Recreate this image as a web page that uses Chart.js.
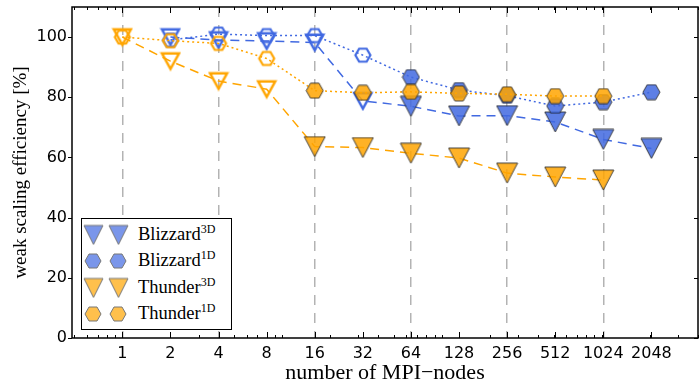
<!DOCTYPE html>
<html lang="en">

<head>
    <meta charset="UTF-8">
    <title>Weak scaling efficiency</title>
    <script src="https://cdnjs.cloudflare.com/ajax/libs/Chart.js/4.4.1/chart.umd.min.js"></script>
    <style>
        body {
            margin: 0;
            background: #fff;
        }

        #wrap {
            position: relative;
            width: 699px;
            height: 385px;
        }

        #legend {
            position: absolute;
            left: 81px;
            top: 218px;
            width: 151px;
            height: 112px;
            box-sizing: border-box;
            border: 1.5px solid #000;
            background: #fff;
            font-family: "Liberation Serif", serif;
            font-size: 18.5px;
            color: #000;
        }

        .row {
            position: absolute;
            left: 0;
            width: 100%;
            height: 26px;
        }

        .row canvas {
            position: absolute;
            top: 50%;
            transform: translateY(-50%);
        }

        .row span {
            position: absolute;
            left: 56px;
            top: 50%;
            transform: translateY(-52%);
            white-space: nowrap;
        }

        .row sup {
            font-size: 12px;
            vertical-align: 7px;
            line-height: 0;
        }
    </style>
</head>

<body>
    <div id="wrap">
        <canvas id="chart" width="699" height="385"></canvas>
        <div id="legend"></div>
    </div>

    <script>
        // Data
        const nodes = [1, 2, 4, 8, 16, 32, 64, 128, 256, 512, 1024, 2048];
        const blizzard3D = [null, 100, 99, 98.7, 98.2, 78.8, 77, 73.8, 73.9, 71.8, 66, 63];
        const blizzard1D = [null, 99, 101, 100.5, 100.5, 94, 86.7, 82.4, 80.5, 77.1, 78.4, 81.7];
        const thunder3D = [100, 92, 85.4, 82.7, 63.6, 63.3, 61.4, 59.8, 54.8, 53.5, 52.5, null];
        const thunder1D = [100, 98.8, 97.9, 92.9, 82.2, 81.5, 81.8, 81.3, 81, 80.4, 80.4, null];
        const yTicks = [0, 20, 40, 60, 80, 100];
        const gridNodes = [1, 4, 16, 64, 256, 1024];

        // points below these node counts are drawn hollow
        const blizzardFilledFrom = 64;
        const thunderFilledFrom = 16;

        const BLUE = '65,105,225';
        const ORANGE = '255,165,0';

        // marker images (triangle down / flat-top hexagon)
        function marker(shape, w, h, fill, stroke, lw) {
            const c = document.createElement('canvas');
            c.width = Math.ceil(w + 2 * lw);
            c.height = Math.ceil(h + 2 * lw);
            const g = c.getContext('2d');
            const cx = c.width / 2, cy = c.height / 2;
            g.beginPath();
            if (shape === 'tri') {
                g.moveTo(cx - w / 2, cy - h / 2);
                g.lineTo(cx + w / 2, cy - h / 2);
                g.lineTo(cx, cy + h / 2);
            } else {
                g.moveTo(cx - w / 2, cy);
                g.lineTo(cx - w / 4, cy - h / 2);
                g.lineTo(cx + w / 4, cy - h / 2);
                g.lineTo(cx + w / 2, cy);
                g.lineTo(cx + w / 4, cy + h / 2);
                g.lineTo(cx - w / 4, cy + h / 2);
            }
            g.closePath();
            if (fill) {
                g.fillStyle = fill;
                g.fill();
            }
            g.lineJoin = 'miter';
            g.lineWidth = lw;
            g.strokeStyle = stroke;
            g.stroke();
            return c;
        }

        function markerSet(shape, rgb) {
            const tri = shape === 'tri';
            return {
                filled: tri ? marker('tri', 21, 20, `rgba(${rgb},0.85)`, 'rgba(40,40,40,0.85)', 1)
                    : marker('hex', 17, 15, `rgba(${rgb},0.85)`, 'rgba(40,40,40,0.85)', 1),
                hollow: tri ? marker('tri', 17, 15.5, null, `rgb(${rgb})`, 2.5)
                    : marker('hex', 15, 13, null, `rgb(${rgb})`, 2.2),
                legend: tri ? marker('tri', 19, 19, `rgba(${rgb},0.7)`, '#777', 1)
                    : marker('hex', 16, 14, `rgba(${rgb},0.7)`, '#777', 1)
            };
        }

        const mk = {
            b3: markerSet('tri', BLUE),
            b1: markerSet('hex', BLUE),
            t3: markerSet('tri', ORANGE),
            t1: markerSet('hex', ORANGE)
        };

        function dataset(label, values, set, rgb, dash, filledFrom, order) {
            return {
                label: label,
                data: nodes.map((n, i) => ({ x: n, y: values[i] })),
                borderColor: `rgb(${rgb})`,
                borderWidth: 1.5,
                borderDash: dash,
                fill: false,
                tension: 0,
                pointRadius: 9,
                pointStyle: c => nodes[c.dataIndex] >= filledFrom ? set.filled : set.hollow,
                order: order
            };
        }

        // frame + inward ticks like the original figure
        const frameTicks = {
            id: 'frameTicks',
            afterDraw(chart) {
                const { ctx, chartArea: a, scales: { x, y } } = chart;
                ctx.save();
                ctx.strokeStyle = '#000';
                ctx.lineWidth = 1;
                ctx.beginPath();
                nodes.forEach(n => {
                    const px = Math.round(x.getPixelForValue(n)) + 0.5;
                    ctx.moveTo(px, a.bottom); ctx.lineTo(px, a.bottom - 6);
                    ctx.moveTo(px, a.top); ctx.lineTo(px, a.top + 6);
                });
                [0.1, 1, 10, 100, 1000].forEach(d => {
                    for (let k = 1; k <= 9; k++) {
                        const v = k * d;
                        if (v < x.min || v > x.max || nodes.includes(v)) continue;
                        const px = Math.round(x.getPixelForValue(v)) + 0.5;
                        ctx.moveTo(px, a.bottom); ctx.lineTo(px, a.bottom - 3);
                        ctx.moveTo(px, a.top); ctx.lineTo(px, a.top + 3);
                    }
                });
                yTicks.forEach(v => {
                    const py = Math.round(y.getPixelForValue(v)) + 0.5;
                    ctx.moveTo(a.left - 4, py); ctx.lineTo(a.left, py);
                    ctx.moveTo(a.right, py); ctx.lineTo(a.right - 4, py);
                });
                ctx.stroke();
                ctx.lineWidth = 1.5;
                ctx.strokeRect(a.left, a.top, a.right - a.left, a.bottom - a.top);
                ctx.restore();
            }
        };

        Chart.defaults.color = '#000';
        Chart.defaults.font.family = '"DejaVu Sans", sans-serif';

        new Chart(document.getElementById('chart'), {
            type: 'line',
            data: {
                datasets: [
                    dataset('Blizzard 3D', blizzard3D, mk.b3, BLUE, [9, 6], blizzardFilledFrom, 4),
                    dataset('Blizzard 1D', blizzard1D, mk.b1, BLUE, [2, 3], blizzardFilledFrom, 3),
                    dataset('Thunder 3D', thunder3D, mk.t3, ORANGE, [9, 6], thunderFilledFrom, 2),
                    dataset('Thunder 1D', thunder1D, mk.t1, ORANGE, [2, 3], thunderFilledFrom, 1)
                ]
            },
            options: {
                responsive: false,
                devicePixelRatio: 1,
                animation: false,
                layout: { autoPadding: false, padding: { top: 7, right: 1, left: 0, bottom: 0 } },
                plugins: {
                    legend: { display: false },
                    tooltip: { enabled: false }
                },
                scales: {
                    x: {
                        type: 'logarithmic',
                        min: 0.484,
                        max: 4010,
                        afterBuildTicks: s => { s.ticks = nodes.map(v => ({ value: v })); },
                        afterFit: s => { s.height = 47; s.paddingLeft = 0; s.paddingRight = 0; },
                        ticks: {
                            autoSkip: false,
                            maxRotation: 0,
                            padding: 6,
                            font: { size: 16 },
                            callback: v => String(v)
                        },
                        grid: {
                            drawTicks: false,
                            lineWidth: 1.5,
                            color: c => gridNodes.includes(c.tick && c.tick.value) ? '#b3b3b3' : 'rgba(0,0,0,0)'
                        },
                        border: { display: false, dash: [10, 8] },
                        title: {
                            display: true,
                            text: 'number of MPI\u2212nodes',
                            font: { family: '"Liberation Serif", serif', size: 22, lineHeight: 1 },
                            padding: { top: 0, bottom: 1 }
                        }
                    },
                    y: {
                        min: 0,
                        max: 110,
                        afterBuildTicks: s => { s.ticks = yTicks.map(v => ({ value: v })); },
                        afterFit: s => { s.width = 72; s.paddingTop = 0; s.paddingBottom = 0; },
                        ticks: { padding: 5, font: { size: 16 } },
                        grid: { display: false, drawTicks: false },
                        border: { display: false },
                        title: {
                            display: true,
                            text: 'weak scaling efficiency [%]',
                            font: { family: '"Liberation Serif", serif', size: 19, lineHeight: 1 },
                            padding: { top: 12, bottom: 0 }
                        }
                    }
                }
            },
            plugins: [frameTicks]
        });

        // Legend (two markers per entry, like the original)
        const legendItems = [
            { name: 'Blizzard', sup: '3D', img: mk.b3.legend },
            { name: 'Blizzard', sup: '1D', img: mk.b1.legend },
            { name: 'Thunder', sup: '3D', img: mk.t3.legend },
            { name: 'Thunder', sup: '1D', img: mk.t1.legend }
        ];
        const legend = document.getElementById('legend');
        legendItems.forEach((it, i) => {
            const row = document.createElement('div');
            row.className = 'row';
            row.style.top = (2.5 + i * 26.5) + 'px';
            [11, 36].forEach(cx => {
                const c = document.createElement('canvas');
                c.width = it.img.width;
                c.height = it.img.height;
                c.getContext('2d').drawImage(it.img, 0, 0);
                c.style.left = (cx - it.img.width / 2) + 'px';
                row.appendChild(c);
            });
            const t = document.createElement('span');
            t.innerHTML = `${it.name}<sup>${it.sup}</sup>`;
            row.appendChild(t);
            legend.appendChild(row);
        });
    </script>
</body>

</html>
